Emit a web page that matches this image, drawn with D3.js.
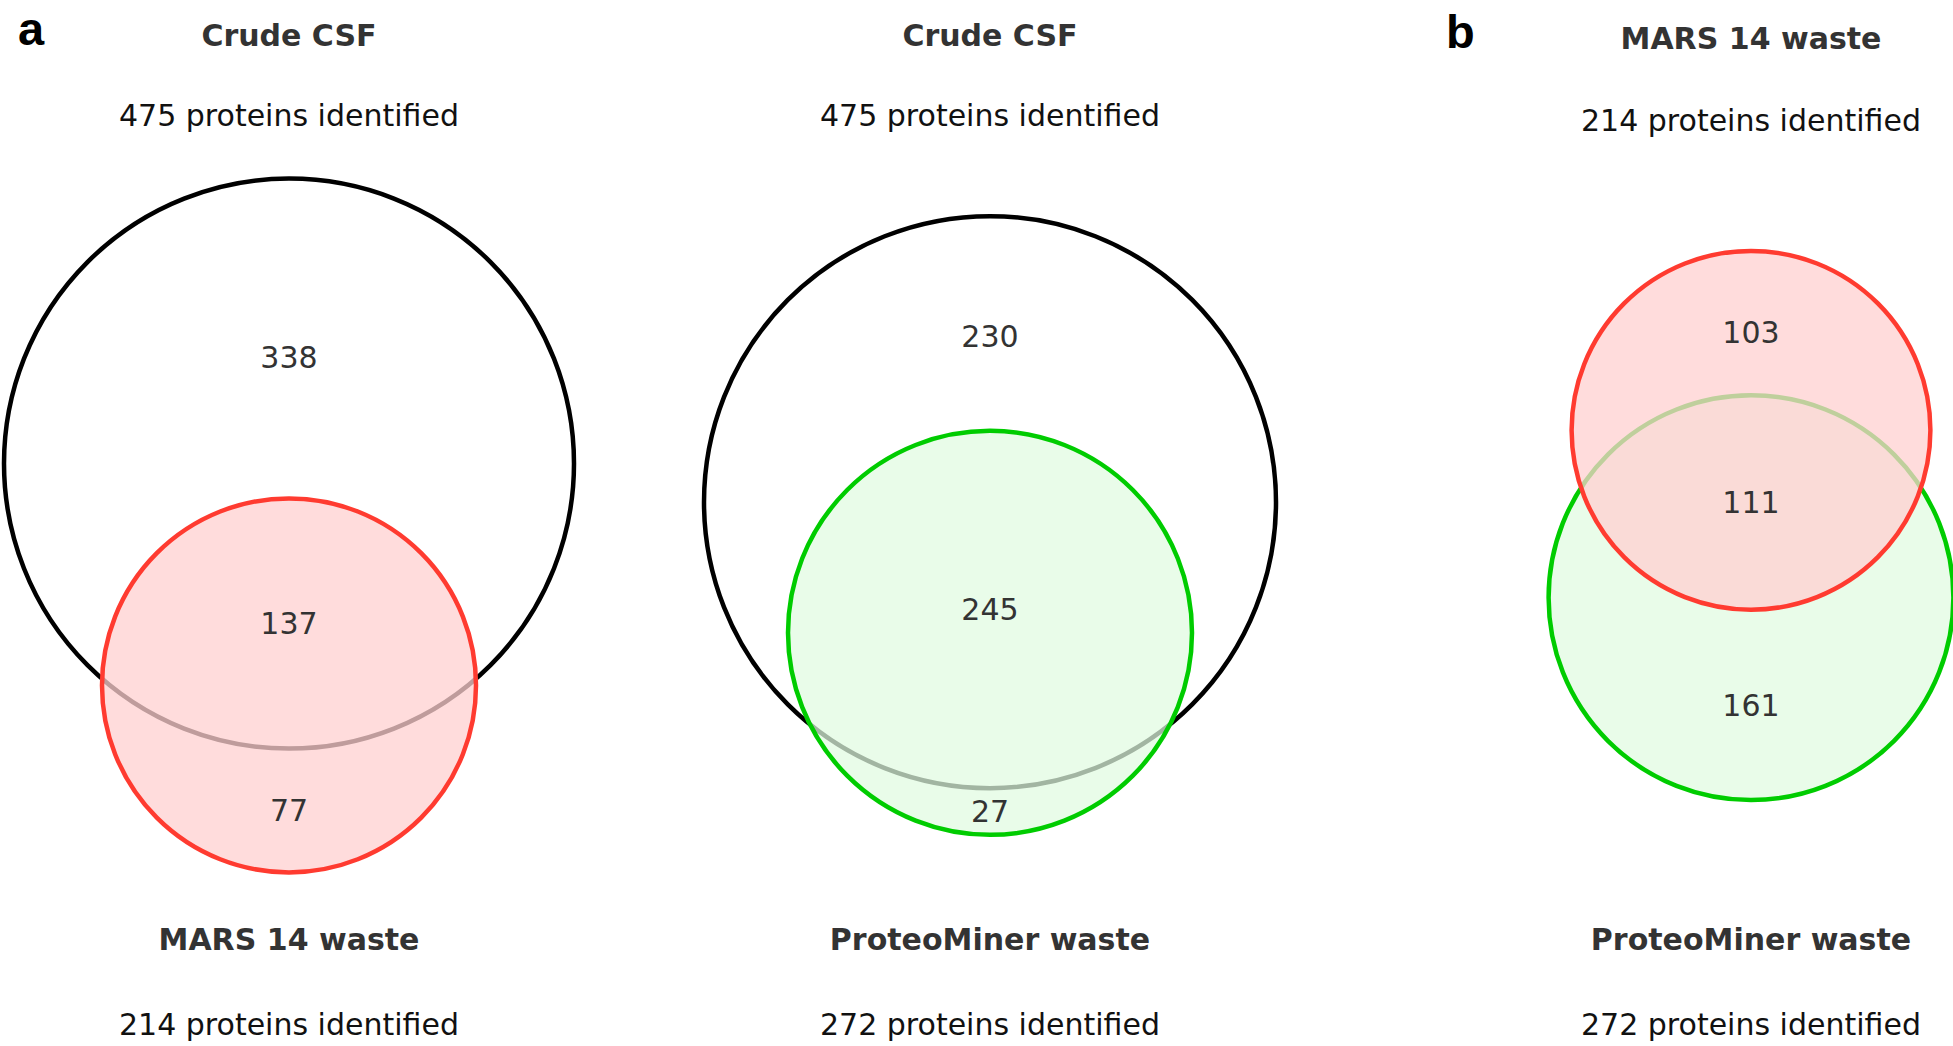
<!DOCTYPE html>
<html><head><meta charset="utf-8">
<script src="https://cdn.jsdelivr.net/npm/d3@7"></script>
<style>body{margin:0;background:#fff} svg{display:block}</style>
</head><body>
<script>
// ---------------- DATA ----------------
const panelLetters = ["a", "", "b"];
const setA = ["Crude CSF", "Crude CSF", "MARS 14 waste"];
const setB = ["MARS 14 waste", "ProteoMiner waste", "ProteoMiner waste"];
const sizeA = [475, 475, 214];
const sizeB = [214, 272, 272];
const overlap = [137, 245, 111];
const subtitleText = n => `${n} proteins identified`;

// ---------------- LAYOUT / STYLE ----------------
const W = 1953, H = 1046;
const panelCx = [289, 990, 1751];
const diagramCy = 525.5;
const radiusRange = [[187, 285], [202, 286], [179.4, 202.4]];
const labelFrac = [0.56, 0.5, 0.5];
const titleTopY = [46, 46, 48.5];
const subTopY = [126, 126, 131];
const titleBotY = [950, 950, 950];
const subBotY = [1035, 1035, 1035];
const letterX = [18, 0, 1446];
const letterY = [45, 0, 48];
const setStyle = {
  "Crude CSF": {stroke: "#000000", fill: "none", opacity: 0},
  "MARS 14 waste": {stroke: "#ff3b30", fill: "rgb(255,208,208)", opacity: 0.75},
  "ProteoMiner waste": {stroke: "#00cc00", fill: "rgb(224,251,224)", opacity: 0.72}
};
const FONT = "'DejaVu Sans', Verdana, sans-serif";

const svg = d3.select("body").append("svg").attr("width", W).attr("height", H);

function lensArea(r1, r2, d) {
  if (d >= r1 + r2) return 0;
  if (d <= Math.abs(r1 - r2)) return Math.PI * Math.min(r1, r2) ** 2;
  const a1 = Math.acos((d * d + r1 * r1 - r2 * r2) / (2 * d * r1));
  const a2 = Math.acos((d * d + r2 * r2 - r1 * r1) / (2 * d * r2));
  const k = Math.sqrt((-d + r1 + r2) * (d + r1 - r2) * (d - r1 + r2) * (d + r1 + r2));
  return r1 * r1 * a1 + r2 * r2 * a2 - 0.5 * k;
}
function solveDistance(r1, r2, target) {
  let lo = Math.abs(r1 - r2), hi = r1 + r2;
  for (let i = 0; i < 100; i++) {
    const mid = (lo + hi) / 2;
    if (lensArea(r1, r2, mid) > target) lo = mid; else hi = mid;
  }
  return (lo + hi) / 2;
}

setA.forEach((_, i) => {
  const g = svg.append("g");
  const rScale = d3.scaleSqrt()
    .domain(d3.extent([sizeA[i], sizeB[i]]))
    .range(radiusRange[i]);
  const rA = rScale(sizeA[i]), rB = rScale(sizeB[i]);
  const small = sizeA[i] < sizeB[i] ? rA : rB;
  const target = overlap[i] / Math.min(sizeA[i], sizeB[i]) * Math.PI * small * small;
  const d = solveDistance(rA, rB, target);
  const hTot = rA + d + rB;
  const cyA = diagramCy - hTot / 2 + rA;
  const cyB = cyA + d;
  const cx = panelCx[i];

  const circles = [
    {name: setA[i], size: sizeA[i], r: rA, cy: cyA},
    {name: setB[i], size: sizeB[i], r: rB, cy: cyB}
  ].sort((a, b) => d3.descending(a.size, b.size));

  g.selectAll("circle").data(circles).join("circle")
    .attr("cx", cx).attr("cy", c => c.cy).attr("r", c => c.r)
    .attr("fill", c => setStyle[c.name].fill)
    .attr("fill-opacity", c => setStyle[c.name].opacity)
    .attr("stroke", c => setStyle[c.name].stroke)
    .attr("stroke-width", 4.5);

  const topA = cyA - rA, botA = cyA + rA, topB = cyB - rB, botB = cyB + rB;
  const labels = [
    {v: sizeA[i] - overlap[i], y: topA + labelFrac[0] * (topB - topA)},
    {v: overlap[i], y: topB + labelFrac[1] * (botA - topB)},
    {v: sizeB[i] - overlap[i], y: botA + labelFrac[2] * (botB - botA)}
  ];
  g.selectAll("text.num").data(labels).join("text").attr("class", "num")
    .attr("x", cx).attr("y", l => l.y).attr("dy", "0.36em")
    .attr("text-anchor", "middle").attr("font-family", FONT)
    .attr("font-size", 30).attr("fill", "#333")
    .text(l => l.v);

  const texts = [
    {t: setA[i], y: titleTopY[i], bold: true},
    {t: subtitleText(sizeA[i]), y: subTopY[i], bold: false},
    {t: setB[i], y: titleBotY[i], bold: true},
    {t: subtitleText(sizeB[i]), y: subBotY[i], bold: false}
  ];
  g.selectAll("text.lab").data(texts).join("text").attr("class", "lab")
    .attr("x", cx).attr("y", t => t.y)
    .attr("text-anchor", "middle").attr("font-family", FONT)
    .attr("font-size", 30)
    .attr("font-weight", t => t.bold ? "bold" : "normal")
    .attr("fill", t => t.bold ? "#333" : "#111")
    .text(t => t.t);

  if (panelLetters[i]) {
    svg.append("text").attr("x", letterX[i]).attr("y", letterY[i])
      .attr("font-family", "'Liberation Sans', Arial, sans-serif")
      .attr("font-weight", "bold").attr("font-size", 47).attr("fill", "#000")
      .text(panelLetters[i]);
  }
});
</script>
</body></html>
